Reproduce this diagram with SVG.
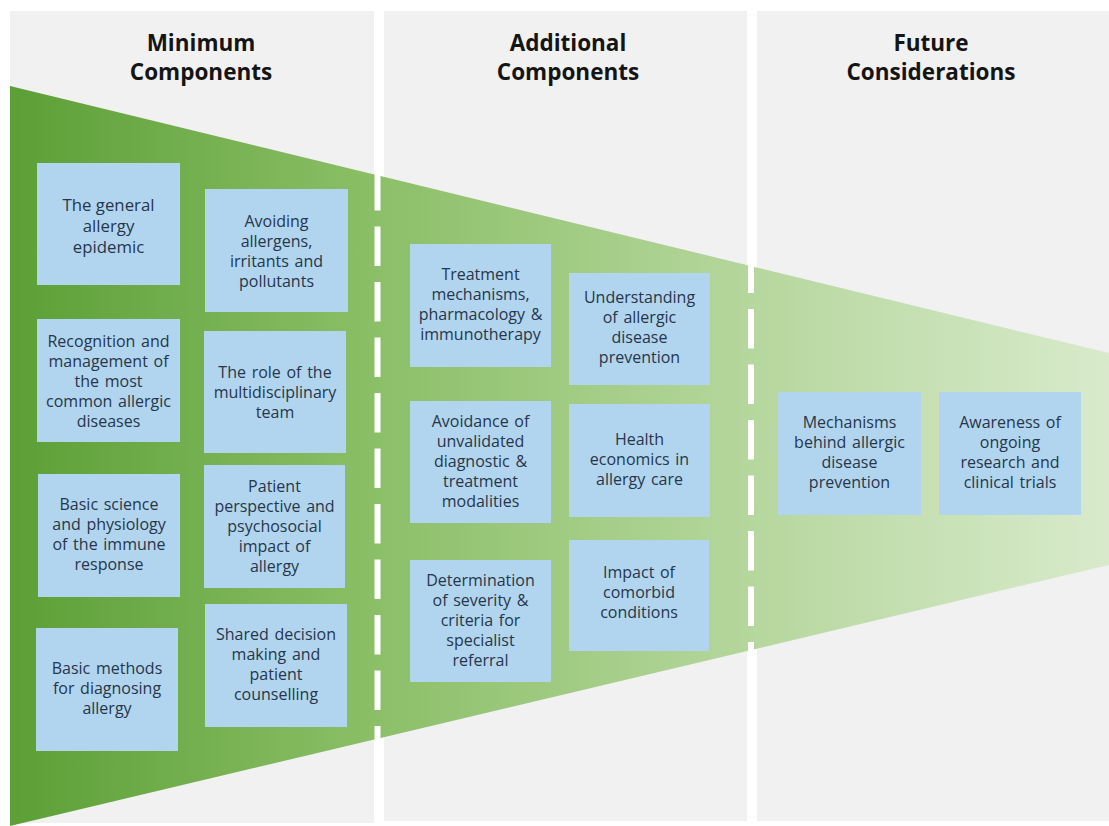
<svg xmlns="http://www.w3.org/2000/svg" width="1109" height="826" viewBox="0 0 1109 826">
  <defs>
    <linearGradient id="wedgeGrad" x1="10" y1="0" x2="1109" y2="0" gradientUnits="userSpaceOnUse">
      <stop offset="0" stop-color="#5c9f36"/>
      <stop offset="0.33" stop-color="#8bbf67"/>
      <stop offset="0.68" stop-color="#b6d79e"/>
      <stop offset="1" stop-color="#d8eacb"/>
    </linearGradient>
    <style>
      .panel { fill: #f1f1f1; }
      .head { font-family: "Open Sans", "Liberation Sans", sans-serif; font-weight: bold; font-size: 22.5px; fill: #141414; text-anchor: middle; }
      .box rect { fill: #b1d5ef; }
      .box text { font-family: "Open Sans", "Liberation Sans", sans-serif; font-size: 16px; word-spacing: 1.5px; fill: #27364a; text-anchor: middle; }
      .box text.big { font-size: 16.8px; word-spacing: 0; }
      .divider { stroke: #ffffff; stroke-width: 6; stroke-dasharray: 39.5 16; fill: none; }
    </style>
  </defs>

  <rect x="0" y="0" width="1109" height="826" fill="#ffffff"/>

  <g id="panels">
    <rect class="panel" x="10" y="11" width="364" height="812"/>
    <rect class="panel" x="384" y="11" width="363" height="810"/>
    <rect class="panel" x="757" y="11" width="352" height="810"/>
  </g>

  <g id="headings">
    <text class="head" x="201" y="51">Minimum</text>
    <text class="head" x="201" y="80">Components</text>
    <text class="head" x="568" y="51">Additional</text>
    <text class="head" x="568" y="80">Components</text>
    <text class="head" x="931" y="51">Future</text>
    <text class="head" x="931" y="80">Considerations</text>
  </g>

  <polygon id="wedge" points="10,86 1109,353 1109,565 10,826" fill="url(#wedgeGrad)"/>

  <g id="connectors">
    <line class="divider" x1="377.5" y1="171" x2="377.5" y2="745"/>
    <line class="divider" x1="751" y1="253.5" x2="751" y2="660"/>
  </g>

  <g id="node-general-epidemic" class="box">
    <rect x="37" y="163" width="143" height="122"/>
    <text class="big" x="108.5" y="211">The general</text>
    <text class="big" x="108.5" y="232">allergy</text>
    <text class="big" x="108.5" y="253">epidemic</text>
  </g>
  <g id="node-avoiding-allergens" class="box">
    <rect x="205" y="189" width="143" height="123"/>
    <text x="276.5" y="227">Avoiding</text>
    <text x="276.5" y="247">allergens,</text>
    <text x="276.5" y="267">irritants and</text>
    <text x="276.5" y="287">pollutants</text>
  </g>
  <g id="node-recognition" class="box">
    <rect x="37" y="319" width="143" height="123"/>
    <text x="108.5" y="347">Recognition and</text>
    <text x="108.5" y="367">management of</text>
    <text x="108.5" y="387">the most</text>
    <text x="108.5" y="407">common allergic</text>
    <text x="108.5" y="427">diseases</text>
  </g>
  <g id="node-multidisciplinary" class="box">
    <rect x="204" y="331" width="142" height="122"/>
    <text x="275" y="378">The role of the</text>
    <text x="275" y="398">multidisciplinary</text>
    <text x="275" y="418">team</text>
  </g>
  <g id="node-basic-science" class="box">
    <rect x="38" y="474" width="142" height="123"/>
    <text x="109" y="510">Basic science</text>
    <text x="109" y="530">and physiology</text>
    <text x="109" y="550">of the immune</text>
    <text x="109" y="570">response</text>
  </g>
  <g id="node-patient-perspective" class="box">
    <rect x="204" y="465" width="141" height="123"/>
    <text x="274.5" y="492">Patient</text>
    <text x="274.5" y="512">perspective and</text>
    <text x="274.5" y="532">psychosocial</text>
    <text x="274.5" y="552">impact of</text>
    <text x="274.5" y="572">allergy</text>
  </g>
  <g id="node-basic-methods" class="box">
    <rect x="36" y="628" width="142" height="123"/>
    <text x="107" y="674">Basic methods</text>
    <text x="107" y="694">for diagnosing</text>
    <text x="107" y="714">allergy</text>
  </g>
  <g id="node-shared-decision" class="box">
    <rect x="205" y="604" width="142" height="123"/>
    <text x="276" y="640">Shared decision</text>
    <text x="276" y="660">making and</text>
    <text x="276" y="680">patient</text>
    <text x="276" y="700">counselling</text>
  </g>

  <g id="node-treatment" class="box">
    <rect x="410" y="244" width="141" height="123"/>
    <text x="480.5" y="280">Treatment</text>
    <text x="480.5" y="300">mechanisms,</text>
    <text x="480.5" y="320">pharmacology &amp;</text>
    <text x="480.5" y="340">immunotherapy</text>
  </g>
  <g id="node-understanding" class="box">
    <rect x="569" y="273" width="141" height="112"/>
    <text x="639.5" y="303">Understanding</text>
    <text x="639.5" y="323">of allergic</text>
    <text x="639.5" y="343">disease</text>
    <text x="639.5" y="363">prevention</text>
  </g>
  <g id="node-avoidance" class="box">
    <rect x="410" y="401" width="141" height="122"/>
    <text x="480.5" y="427">Avoidance of</text>
    <text x="480.5" y="447">unvalidated</text>
    <text x="480.5" y="467">diagnostic &amp;</text>
    <text x="480.5" y="487">treatment</text>
    <text x="480.5" y="507">modalities</text>
  </g>
  <g id="node-health-economics" class="box">
    <rect x="569" y="404" width="141" height="113"/>
    <text x="639.5" y="445">Health</text>
    <text x="639.5" y="465">economics in</text>
    <text x="639.5" y="485">allergy care</text>
  </g>
  <g id="node-determination" class="box">
    <rect x="410" y="560" width="141" height="122"/>
    <text x="480.5" y="586">Determination</text>
    <text x="480.5" y="606">of severity &amp;</text>
    <text x="480.5" y="626">criteria for</text>
    <text x="480.5" y="646">specialist</text>
    <text x="480.5" y="666">referral</text>
  </g>
  <g id="node-comorbid" class="box">
    <rect x="569" y="540" width="140" height="111"/>
    <text x="639" y="578">Impact of</text>
    <text x="639" y="598">comorbid</text>
    <text x="639" y="618">conditions</text>
  </g>

  <g id="node-mechanisms" class="box">
    <rect x="778" y="392" width="143" height="123"/>
    <text x="849.5" y="428">Mechanisms</text>
    <text x="849.5" y="448">behind allergic</text>
    <text x="849.5" y="468">disease</text>
    <text x="849.5" y="488">prevention</text>
  </g>
  <g id="node-awareness" class="box">
    <rect x="939" y="392" width="142" height="123"/>
    <text x="1010" y="428">Awareness of</text>
    <text x="1010" y="448">ongoing</text>
    <text x="1010" y="468">research and</text>
    <text x="1010" y="488">clinical trials</text>
  </g>
</svg>
